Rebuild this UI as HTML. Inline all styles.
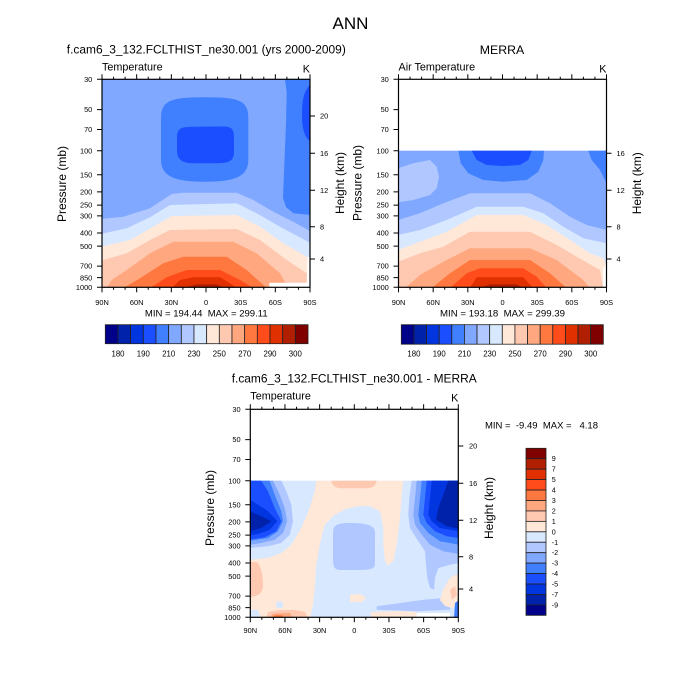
<!DOCTYPE html>
<html><head><meta charset="utf-8"><style>
html,body{margin:0;padding:0;background:#fff;}
svg{display:block;font-family:"Liberation Sans",Arial,sans-serif;}
.t{font-size:7.4px;fill:#000;}
.c{font-size:7.8px;fill:#000;}
</style></head><body>
<svg width="700" height="700" viewBox="0 0 700 700" xmlns="http://www.w3.org/2000/svg">
<defs>
<clipPath id="cpA"><rect x="102" y="79.3" width="208" height="208"/></clipPath>
<clipPath id="cpB"><rect x="398.5" y="79.3" width="208" height="208"/></clipPath>
<clipPath id="cpC"><rect x="250.3" y="409.3" width="208" height="208"/></clipPath>
<g id="ticks" fill="none" stroke="#000" stroke-width="1">
<path d="M-5,0H0M-5,30.3H0M-5,50.26H0M-5,71.42H0M-5,95.47H0M-5,112.53H0M-5,125.77H0M-5,136.58H0M-5,153.65H0M-5,166.88H0M-5,186.84H0M-5,198.36H0M-5,208H0"/>
<path d="M0,0V-5M34.67,0V-5M69.33,0V-5M104,0V-5M138.67,0V-5M173.33,0V-5M208,0V-5M11.56,0V-2.5M23.11,0V-2.5M46.22,0V-2.5M57.78,0V-2.5M80.89,0V-2.5M92.44,0V-2.5M115.56,0V-2.5M127.11,0V-2.5M150.22,0V-2.5M161.78,0V-2.5M184.89,0V-2.5M196.44,0V-2.5"/>
<path d="M0,208V213M34.67,208V213M69.33,208V213M104,208V213M138.67,208V213M173.33,208V213M208,208V213M11.56,208V210.5M23.11,208V210.5M46.22,208V210.5M57.78,208V210.5M80.89,208V210.5M92.44,208V210.5M115.56,208V210.5M127.11,208V210.5M150.22,208V210.5M161.78,208V210.5M184.89,208V210.5M196.44,208V210.5"/>
<path d="M208,74H213M208,111H213M208,147.4H213M208,179.7H213"/>
</g>
</defs>

<text x="350.5" y="29" font-size="17" text-anchor="middle">ANN</text>

<!-- ============ TOP LEFT ============ -->
<text x="206.3" y="53.3" font-size="12.3" text-anchor="middle" textLength="279" lengthAdjust="spacingAndGlyphs">f.cam6_3_132.FCLTHIST_ne30.001 (yrs 2000-2009)</text>
<text x="102" y="70.7" font-size="10.8">Temperature</text>
<text x="310" y="72.5" font-size="10.8" text-anchor="end">K</text>
<g clip-path="url(#cpA)">
<rect x="102" y="79.3" width="208" height="208" fill="#80a8ff"/>
<path fill="#4080ff" d="M161,118 C161,100 172,97.3 205,97.3 C238,97.3 248.3,100 248.3,118 L248.3,160 C248.3,178 232,181.7 205,181.7 C178,181.7 161,178 161,160 Z"/>
<path fill="#1a4eff" d="M177,138 C177,128 181,126.7 195,126.7 L222,126.5 C232,126.5 234,129 234,138 L234,152 C234,161 229,163.3 216,163.3 L194,163.3 C181,163.3 177,159 177,150 Z"/>
<path fill="#4080ff" d="M285,79.3 L286.7,93 L286,123 L283.3,190 L283,198 L286,207 L293.3,213.3 L311,215 L311,79.3 Z"/>
<path fill="#1a4eff" d="M311,84 C304,90 302,100 302,115 C302,130 305,138 311,142 Z"/>
<path fill="#b0c8ff" d="M101,219 L123.3,216.7 L150,208.3 L171.7,194 L183.3,192.7 L236.7,192.7 L253.3,200 L273.3,211.7 L293.3,221.7 L311,231.7 L311,288 L101,288 Z"/>
<path fill="#d8e8ff" d="M101,234 L126.7,228.3 L150,217.3 L170,205 L236.7,203.3 L256.7,213.3 L280,226.7 L311,243.3 L311,288 L101,288 Z"/>
<path fill="#ffe8d8" d="M101,246.7 L130,240 L153.3,226.7 L171.7,216 L236.7,215 L260,226.7 L283.3,243.3 L306.7,256.7 L311,258.3 V288 H101 Z"/>
<path fill="#ffc8b0" d="M101,260.7 L126.7,253.3 L150,240 L170,230 L236.7,229 L260,240 L286.7,260 L306.7,273.3 L311,276 V288 H101 Z"/>
<path fill="#ffa880" d="M106.7,288 L111.7,280 L126.7,270 L150,253.3 L173.3,241.7 L233.3,241.7 L256.7,253.3 L280,273.3 L288.3,288 Z"/>
<path fill="#ff7840" d="M123.3,288 L140,278.3 L163.3,263.3 L183.3,256.7 L226.7,256.7 L246.7,270 L266.7,288 Z"/>
<path fill="#ff4c1a" d="M150,288 L166.7,277.3 L186.7,270 L220,270 L240,280 L253.3,288 Z"/>
<path fill="#e03000" d="M171.7,288 L180,280 L193.3,277.3 L220,277.3 L230,283.3 L236.7,288 Z"/>
<path fill="#b02000" d="M183.3,288 L196.7,284.3 L216.7,284.3 L225,288 Z"/>
<path fill="#fff" d="M307.5,257 H311 V288 H269.3 V282.7 H306.7 Z"/>
</g>
<rect x="102" y="79.3" width="208" height="208" fill="none" stroke="#000" stroke-width="1.2"/>
<use href="#ticks" transform="translate(102,79.3)"/>
<path d="M310,116H315" stroke="#000" stroke-width="1"/>
<g class="t" text-anchor="end">
<text x="92.3" y="81.9">30</text><text x="92.3" y="112.2">50</text><text x="92.3" y="132.2">70</text><text x="92.3" y="153.3">100</text><text x="92.3" y="177.4">150</text><text x="92.3" y="194.4">200</text><text x="92.3" y="207.7">250</text><text x="92.3" y="218.5">300</text><text x="92.3" y="235.6">400</text><text x="92.3" y="248.8">500</text><text x="92.3" y="268.7">700</text><text x="92.3" y="280.3">850</text><text x="92.3" y="289.9">1000</text>
</g>
<g class="t">
<text x="320" y="118.6">20</text><text x="320" y="155.9">16</text><text x="320" y="192.9">12</text><text x="320" y="229.3">8</text><text x="320" y="261.6">4</text>
</g>
<g class="t" text-anchor="middle">
<text x="102" y="305">90N</text><text x="136.7" y="305">60N</text><text x="171.3" y="305">30N</text><text x="206" y="305">0</text><text x="240.7" y="305">30S</text><text x="275.3" y="305">60S</text><text x="310" y="305">90S</text>
</g>
<text transform="translate(62,184) rotate(-90)" font-size="12" text-anchor="middle" dy="0.35em">Pressure (mb)</text>
<text transform="translate(340,183) rotate(-90)" font-size="12" text-anchor="middle" dy="0.35em">Height (km)</text>
<text x="206.3" y="316.7" font-size="9.5" text-anchor="middle" style="white-space:pre" textLength="122.7" lengthAdjust="spacingAndGlyphs">MIN = 194.44  MAX = 299.11</text>
<g stroke="#222" stroke-width="0.8">
<rect x="105.3" y="324.7" width="12.67" height="19" fill="#000088"/>
<rect x="117.97" y="324.7" width="12.67" height="19" fill="#0022aa"/>
<rect x="130.64" y="324.7" width="12.67" height="19" fill="#0035e0"/>
<rect x="143.31" y="324.7" width="12.67" height="19" fill="#1a4eff"/>
<rect x="155.98" y="324.7" width="12.67" height="19" fill="#4080ff"/>
<rect x="168.65" y="324.7" width="12.67" height="19" fill="#80a8ff"/>
<rect x="181.32" y="324.7" width="12.67" height="19" fill="#b0c8ff"/>
<rect x="193.99" y="324.7" width="12.67" height="19" fill="#d8e8ff"/>
<rect x="206.66" y="324.7" width="12.67" height="19" fill="#ffe8d8"/>
<rect x="219.33" y="324.7" width="12.67" height="19" fill="#ffc8b0"/>
<rect x="232" y="324.7" width="12.67" height="19" fill="#ffa880"/>
<rect x="244.67" y="324.7" width="12.67" height="19" fill="#ff7840"/>
<rect x="257.34" y="324.7" width="12.67" height="19" fill="#ff4c1a"/>
<rect x="270.01" y="324.7" width="12.67" height="19" fill="#e03000"/>
<rect x="282.68" y="324.7" width="12.67" height="19" fill="#b02000"/>
<rect x="295.35" y="324.7" width="12.67" height="19" fill="#800000"/>
</g>
<g class="c" text-anchor="middle">
<text x="118" y="356.3">180</text><text x="143.3" y="356.3">190</text><text x="168.7" y="356.3">210</text><text x="194" y="356.3">230</text><text x="219.3" y="356.3">250</text><text x="244.7" y="356.3">270</text><text x="270" y="356.3">290</text><text x="295.3" y="356.3">300</text>
</g>

<!-- ============ TOP RIGHT ============ -->
<text x="502" y="54" font-size="12.3" text-anchor="middle">MERRA</text>
<text x="398.5" y="70.7" font-size="10.8">Air Temperature</text>
<text x="606.5" y="72.5" font-size="10.8" text-anchor="end">K</text>
<g clip-path="url(#cpB)">
<rect x="398.5" y="150.7" width="208" height="137" fill="#80a8ff"/>
<path fill="#b0c8ff" d="M398,168.3 L413.3,163.3 L430,160 L436.7,166.7 L439,176.7 L436.7,188.3 L430,195 L413.3,200 L398,202.3 Z"/>
<path fill="#4080ff" d="M458.3,150.7 L460.7,163.3 L468.3,173.3 L483.3,180 L503.3,181.7 L526.7,180 L538.3,171.7 L543.3,160 L544,150.7 Z"/>
<path fill="#1a4eff" d="M471.7,150.7 L476.7,160 L486.7,165 L503.3,166 L520,165 L528.3,160 L531.7,150.7 Z"/>
<path fill="#4080ff" d="M588.3,150.7 L591.7,160 L600,170 L605,180 L607,185 L607,150.7 Z"/>
<path fill="#b0c8ff" d="M398,220 L420,213.3 L443.3,203.3 L470,193.3 L530,193.3 L550,203.3 L570,216.7 L586.7,225 L607,230 V288 H398 Z"/>
<path fill="#d8e8ff" d="M398,235 L420,230 L446.7,220 L476.7,206.7 L523.3,206.7 L543.3,213.3 L563.3,226.7 L583.3,238.3 L607,243.3 V288 H398 Z"/>
<path fill="#ffe8d8" d="M398,250 L420,241.7 L446.7,231.7 L476.7,215 L523.3,215 L546.7,225 L570,240 L590,253.3 L603.3,258.3 L607,266.7 V288 H398 Z"/>
<path fill="#ffc8b0" d="M398,261.7 L420,253.3 L443.3,246.7 L470,231.7 L530,231.7 L556.7,245 L576.7,256.7 L600,270 L603.3,288 H398 Z"/>
<path fill="#ffa880" d="M405,288 L420,275 L443.3,261.7 L470,248.3 L530,248.3 L556.7,260 L583.3,280 L590,288 Z"/>
<path fill="#ff7840" d="M431.7,288 L450,273.3 L470,260 L530,260 L550,273.3 L566.7,288 Z"/>
<path fill="#ff4c1a" d="M450,288 L466.7,273.3 L480,268.3 L523.3,268.3 L536.7,276.7 L546.7,288 Z"/>
<path fill="#e03000" d="M470,288 L476.7,277.3 L523.3,277.3 L533.3,288 Z"/>
<path fill="#b02000" d="M480,288 L490,284.3 L516.7,284.3 L523.3,288 Z"/>
<path fill="#fff" d="M603.3,268 L607,262 V288 H603 Z"/>
</g>
<rect x="398.5" y="79.3" width="208" height="208" fill="none" stroke="#000" stroke-width="1.2"/>
<use href="#ticks" transform="translate(398.5,79.3)"/>
<g class="t" text-anchor="end">
<text x="388.8" y="81.9">30</text><text x="388.8" y="112.2">50</text><text x="388.8" y="132.2">70</text><text x="388.8" y="153.3">100</text><text x="388.8" y="177.4">150</text><text x="388.8" y="194.4">200</text><text x="388.8" y="207.7">250</text><text x="388.8" y="218.5">300</text><text x="388.8" y="235.6">400</text><text x="388.8" y="248.8">500</text><text x="388.8" y="268.7">700</text><text x="388.8" y="280.3">850</text><text x="388.8" y="289.9">1000</text>
</g>
<g class="t">
<text x="616.5" y="155.9">16</text><text x="616.5" y="192.9">12</text><text x="616.5" y="229.3">8</text><text x="616.5" y="261.6">4</text>
</g>
<g class="t" text-anchor="middle">
<text x="398.5" y="305">90N</text><text x="433.2" y="305">60N</text><text x="467.8" y="305">30N</text><text x="502.5" y="305">0</text><text x="537.2" y="305">30S</text><text x="571.8" y="305">60S</text><text x="606.5" y="305">90S</text>
</g>
<text transform="translate(357.3,183) rotate(-90)" font-size="12" text-anchor="middle" dy="0.35em">Pressure (mb)</text>
<text transform="translate(636.7,183.3) rotate(-90)" font-size="12" text-anchor="middle" dy="0.35em">Height (km)</text>
<text x="502.5" y="316.7" font-size="9.5" text-anchor="middle" style="white-space:pre" textLength="125" lengthAdjust="spacingAndGlyphs">MIN = 193.18  MAX = 299.39</text>
<g stroke="#222" stroke-width="0.8">
<rect x="401.3" y="324.7" width="12.63" height="19.5" fill="#000088"/>
<rect x="413.93" y="324.7" width="12.63" height="19.5" fill="#0022aa"/>
<rect x="426.55" y="324.7" width="12.63" height="19.5" fill="#0035e0"/>
<rect x="439.18" y="324.7" width="12.63" height="19.5" fill="#1a4eff"/>
<rect x="451.8" y="324.7" width="12.63" height="19.5" fill="#4080ff"/>
<rect x="464.43" y="324.7" width="12.63" height="19.5" fill="#80a8ff"/>
<rect x="477.05" y="324.7" width="12.63" height="19.5" fill="#b0c8ff"/>
<rect x="489.68" y="324.7" width="12.63" height="19.5" fill="#d8e8ff"/>
<rect x="502.3" y="324.7" width="12.63" height="19.5" fill="#ffe8d8"/>
<rect x="514.93" y="324.7" width="12.63" height="19.5" fill="#ffc8b0"/>
<rect x="527.55" y="324.7" width="12.63" height="19.5" fill="#ffa880"/>
<rect x="540.18" y="324.7" width="12.63" height="19.5" fill="#ff7840"/>
<rect x="552.8" y="324.7" width="12.63" height="19.5" fill="#ff4c1a"/>
<rect x="565.43" y="324.7" width="12.63" height="19.5" fill="#e03000"/>
<rect x="578.05" y="324.7" width="12.63" height="19.5" fill="#b02000"/>
<rect x="590.68" y="324.7" width="12.63" height="19.5" fill="#800000"/>
</g>
<g class="c" text-anchor="middle">
<text x="413.9" y="356.3">180</text><text x="439.2" y="356.3">190</text><text x="464.4" y="356.3">210</text><text x="489.7" y="356.3">230</text><text x="514.9" y="356.3">250</text><text x="540.2" y="356.3">270</text><text x="565.4" y="356.3">290</text><text x="590.7" y="356.3">300</text>
</g>

<!-- ============ BOTTOM ============ -->
<text x="354.2" y="382.7" font-size="12.3" text-anchor="middle" textLength="245" lengthAdjust="spacingAndGlyphs">f.cam6_3_132.FCLTHIST_ne30.001 - MERRA</text>
<text x="250.3" y="399.3" font-size="10.8">Temperature</text>
<text x="458.3" y="401.5" font-size="10.8" text-anchor="end">K</text>
<g clip-path="url(#cpC)">
<rect x="250.3" y="480.7" width="208" height="137" fill="#d8e8ff"/>
<path fill="#ffe8d8" d="M316.3,480.7 L403.3,480.7 L401.7,494.7 L400,518 L396.7,544.7 L393.3,561.3 L388.3,565.3 L385,561.3 L383.3,544.7 L383.3,528 L380,511.3 L370,506.3 L358,506.3 L346,509 L334.7,514.7 L324.7,524.7 L319.7,544.7 L316.3,564.7 L314.7,588 L313,604.7 L310,618 L250,618 L250,559.7 L268,558 L281.3,553 L291.3,544.7 L301.3,528 L309.7,508 L314.7,491.3 Z"/>
<path fill="#ffc8b0" d="M331.3,480.7 L376.7,480.7 C376,486 372,488.3 365,488.3 L343,488.3 C336,488.3 332,486 331.3,480.7 Z"/>
<path fill="#ffc8b0" d="M250,562 L257,562 C261,566 263,575 263,585 C263,592 260,596 250,597 Z"/>
<path fill="#d8e8ff" d="M250,609.7 L258,609.7 L261,618 L250,618 Z"/>
<rect x="276.3" y="601.3" width="6.7" height="6.7" rx="2" fill="#d8e8ff"/>
<path fill="#ffc8b0" d="M266,618 L268,612 L280,610 L295,610 L305,612 L308,618 Z"/>
<path fill="#ffa880" d="M270,618 L273,613.5 L290,613 L293,618 Z"/>
<path fill="#ff7840" d="M273,618 L275,615.3 L282,615.3 L284,618 Z"/>
<path fill="#ffe8d8" d="M350,595 L360,594 L366,598 L362,602 L350,602 Z"/>
<path fill="#ffe8d8" d="M370,618 L372,612 L400,611 L416.7,612 L416.7,618 Z"/>
<path fill="#b0c8ff" d="M333,532 C333,525 338,523 350,523 C365,523 375,525 375,532 L375,564 C375,568 372,570 360,570 L340,570 C335,570 333,567 333,560 Z"/>
<path fill="#b0c8ff" d="M376.7,606.3 L400,603 L423.3,599.7 L443.3,598 L450,601.3 L450,609.7 L416.7,611.3 L376.7,609.7 Z"/>
<path fill="#b0c8ff" d="M411.7,480.7 L409.3,498 L408.3,514.7 L410,528 L418.3,541.3 L425,551.3 L426,564.7 L427.3,578 L430,588 L434,589.7 L435,578 L438.3,568 L450,564.7 L459,563 L459,480.7 Z"/>
<path fill="#80a8ff" d="M416.7,480.7 L415,498 L413.3,514.7 L415,524.7 L421.7,534.7 L430,544.7 L443.3,551.3 L459,554 L459,480.7 Z"/>
<path fill="#4080ff" d="M421.7,480.7 L420,498 L418.3,514.7 L420,523 L428.3,533 L440,541.3 L459,544.7 V480.7 Z"/>
<path fill="#1a4eff" d="M426.7,480.7 L425,498 L423.3,514.7 L426.7,523 L435,531.3 L446.7,536.3 L459,538 V480.7 Z"/>
<path fill="#0035e0" d="M431.7,480.7 L430,498 L428.3,514.7 L431.7,521.3 L440,528 L459,531.3 V480.7 Z"/>
<path fill="#0022aa" d="M448.3,480.7 L443.3,494.7 L438.3,508 L436,519.7 L446.7,526.3 L459,528.7 V480.7 Z"/>
<path fill="#b0c8ff" d="M250,480.7 L281.3,480.7 L286.3,491.3 L291.3,504.7 L293,521.3 L289.7,534.7 L281.3,543 L268,546.3 L250,548 Z"/>
<path fill="#80a8ff" d="M250,480.7 L273,480.7 L279.7,494.7 L284.7,508 L287.3,521.3 L283,533 L274.7,539.7 L261.3,543 L250,544.7 Z"/>
<path fill="#4080ff" d="M250,480.7 L269.7,480.7 L274.7,494.7 L281.3,511.3 L283,521.3 L278,531.3 L268,538 L250,540.7 Z"/>
<path fill="#1a4eff" d="M250,480.7 L261.3,480.7 L268,491.3 L274.7,508 L281.3,521.3 L276.3,531.3 L264.7,537.3 L250,539.7 Z"/>
<path fill="#0035e0" d="M250,499.7 L258,504.7 L268,511.3 L277.3,521.3 L269.7,529.7 L258,534 L250,535.3 Z"/>
<path fill="#0022aa" d="M250,511.3 L261.3,516.3 L271.3,521.3 L261.3,528 L250,531.3 Z"/>
<path fill="#ffe8d8" d="M443,590 L450,578 L455,575 L459,575 L459,605 L452,608 L445,606 L440,600 Z"/>
<path fill="#ffc8b0" d="M450,590 L455,586 L457,595 L452,600 Z"/>
<path fill="#4080ff" d="M455,603 L459,600 L459,618 L454,618 Z"/>
<rect x="416.7" y="613" width="33.3" height="5" fill="#fff"/>
</g>
<rect x="250.3" y="409.3" width="208" height="208" fill="none" stroke="#000" stroke-width="1.2"/>
<use href="#ticks" transform="translate(250.3,409.3)"/>
<path d="M458.3,446H463.3" stroke="#000" stroke-width="1"/>
<g class="t" text-anchor="end">
<text x="240.6" y="411.9">30</text><text x="240.6" y="442.2">50</text><text x="240.6" y="462.2">70</text><text x="240.6" y="483.3">100</text><text x="240.6" y="507.4">150</text><text x="240.6" y="524.4">200</text><text x="240.6" y="537.7">250</text><text x="240.6" y="548.5">300</text><text x="240.6" y="565.6">400</text><text x="240.6" y="578.8">500</text><text x="240.6" y="598.7">700</text><text x="240.6" y="610.3">850</text><text x="240.6" y="619.9">1000</text>
</g>
<g class="t">
<text x="469" y="448.6">20</text><text x="469" y="485.9">16</text><text x="469" y="522.9">12</text><text x="469" y="559.3">8</text><text x="469" y="591.6">4</text>
</g>
<g class="t" text-anchor="middle">
<text x="250.3" y="633">90N</text><text x="285" y="633">60N</text><text x="319.6" y="633">30N</text><text x="354.3" y="633">0</text><text x="389" y="633">30S</text><text x="423.6" y="633">60S</text><text x="458.3" y="633">90S</text>
</g>
<text transform="translate(210,508) rotate(-90)" font-size="12" text-anchor="middle" dy="0.35em">Pressure (mb)</text>
<text transform="translate(489,508) rotate(-90)" font-size="12" text-anchor="middle" dy="0.35em">Height (km)</text>
<text x="541.5" y="428.3" font-size="9" text-anchor="middle" style="white-space:pre" textLength="113" lengthAdjust="spacingAndGlyphs">MIN =  -9.49  MAX =   4.18</text>
<g stroke="#222" stroke-width="0.8">
<rect x="526" y="448.3" width="20" height="10.44" fill="#800000"/>
<rect x="526" y="458.74" width="20" height="10.44" fill="#b02000"/>
<rect x="526" y="469.18" width="20" height="10.44" fill="#e03000"/>
<rect x="526" y="479.62" width="20" height="10.44" fill="#ff4c1a"/>
<rect x="526" y="490.06" width="20" height="10.44" fill="#ff7840"/>
<rect x="526" y="500.5" width="20" height="10.44" fill="#ffa880"/>
<rect x="526" y="510.94" width="20" height="10.44" fill="#ffc8b0"/>
<rect x="526" y="521.38" width="20" height="10.44" fill="#ffe8d8"/>
<rect x="526" y="531.82" width="20" height="10.44" fill="#d8e8ff"/>
<rect x="526" y="542.26" width="20" height="10.44" fill="#b0c8ff"/>
<rect x="526" y="552.7" width="20" height="10.44" fill="#80a8ff"/>
<rect x="526" y="563.14" width="20" height="10.44" fill="#4080ff"/>
<rect x="526" y="573.58" width="20" height="10.44" fill="#1a4eff"/>
<rect x="526" y="584.02" width="20" height="10.44" fill="#0035e0"/>
<rect x="526" y="594.46" width="20" height="10.44" fill="#0022aa"/>
<rect x="526" y="604.9" width="20" height="10.44" fill="#000088"/>
</g>
<g font-size="7.2">
<text x="551.7" y="461.2">9</text><text x="551.7" y="471.7">7</text><text x="551.7" y="482.1">5</text><text x="551.7" y="492.6">4</text><text x="551.7" y="503">3</text><text x="551.7" y="513.4">2</text><text x="551.7" y="523.9">1</text><text x="551.7" y="534.3">0</text><text x="551.7" y="544.8">-1</text><text x="551.7" y="555.2">-2</text><text x="551.7" y="565.6">-3</text><text x="551.7" y="576.1">-4</text><text x="551.7" y="586.5">-5</text><text x="551.7" y="597">-7</text><text x="551.7" y="607.4">-9</text>
</g>
</svg>
</body></html>
